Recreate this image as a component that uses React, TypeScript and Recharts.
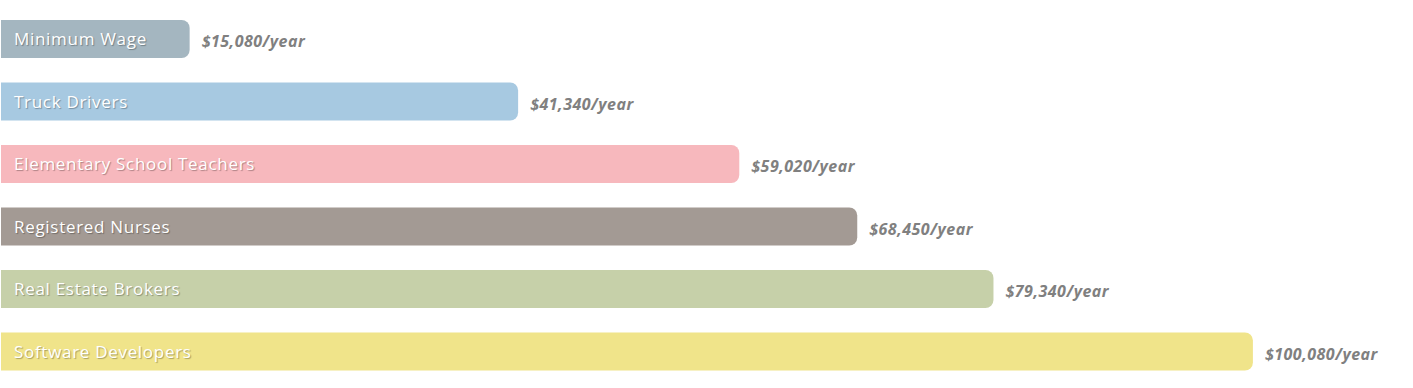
import { BarChart, Bar, XAxis, YAxis, Cell, LabelList } from "recharts";

const jobs = [
  "Minimum Wage",
  "Truck Drivers",
  "Elementary School Teachers",
  "Registered Nurses",
  "Real Estate Brokers",
  "Software Developers",
];
const wages = [15080, 41340, 59020, 68450, 79340, 100080];
const barColors = ["#a4b6c0", "#a7c9e1", "#f7b8bd", "#a39a94", "#c6d0a9", "#f0e48a"];

const data = jobs.map((job, i) => ({ job, wage: wages[i] }));

function formatWage(v: number) {
  return "$" + v.toLocaleString("en-US") + "/year";
}

const FONT = "'Open Sans', Lato, sans-serif";

function NameLabel(props: any) {
  const { x, y, height, value } = props;
  return (
    <text
      x={x + 13}
      y={y + height / 2}
      dy={6}
      fill="#fff"
      fontSize={17}
      letterSpacing={0.7}
      fontFamily={FONT}
      style={{ textShadow: "1px 1px 1px rgba(0,0,0,0.3)" }}
    >
      {value}
    </text>
  );
}

function WageLabel(props: any) {
  const { x, y, width, height, value } = props;
  return (
    <text
      x={x + width + 12}
      y={y + height / 2}
      dy={8}
      fill="#808080"
      fontSize={16}
      letterSpacing={0.5}
      fontWeight="bold"
      fontStyle="italic"
      fontFamily={FONT}
    >
      {formatWage(value)}
    </text>
  );
}

export default function App() {
  return (
    <div style={{ position: "absolute", left: 0, top: 0, background: "#fff" }}>
      <BarChart
        width={1413}
        height={388}
        data={data}
        layout="vertical"
        margin={{ top: 8, right: 36, bottom: 5, left: 1 }}
      >
        <XAxis type="number" domain={[0, 110000]} hide />
        <YAxis type="category" dataKey="job" hide />
        <Bar dataKey="wage" barSize={38} radius={[0, 8, 8, 0]} isAnimationActive={false}>
          {data.map((d, i) => (
            <Cell key={d.job} fill={barColors[i]} />
          ))}
          <LabelList dataKey="job" content={NameLabel} />
          <LabelList dataKey="wage" content={WageLabel} />
        </Bar>
      </BarChart>
    </div>
  );
}
